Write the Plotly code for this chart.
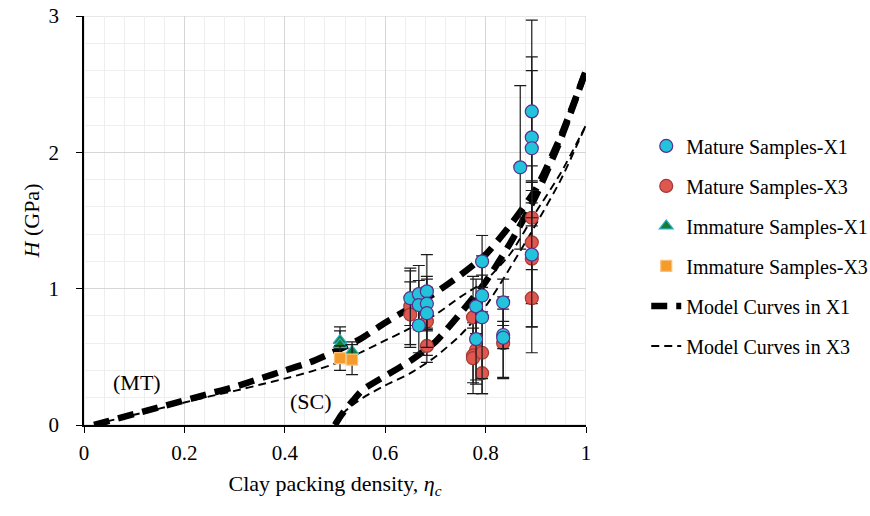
import plotly.graph_objects as go

# ---------------- data ----------------
mx1_x = [0.65, 0.667, 0.667, 0.667, 0.683, 0.683, 0.683, 0.781, 0.781, 0.793, 0.793, 0.793,
         0.835, 0.835, 0.835, 0.869, 0.892, 0.892, 0.892, 0.892]
mx1_y = [0.93, 0.96, 0.88, 0.73, 0.98, 0.89, 0.82, 0.87, 0.63, 1.20, 0.95, 0.79,
         0.90, 0.66, 0.64, 1.89, 2.30, 2.11, 2.03, 1.25]
mx1_e = [0.20, 0.21, 0.18, 0.20, 0.27, 0.20, 0.25, 0.20, 0.30, 0.19, 0.15, 0.45,
         0.17, 0.10, 0.30, 0.60, 0.67, 0.59, 0.57, 0.53]

mx3_x = [0.65, 0.65, 0.683, 0.683, 0.775, 0.781, 0.775, 0.775, 0.793, 0.793, 0.835,
         0.892, 0.892, 0.892, 0.892]
mx3_y = [0.87, 0.81, 0.76, 0.58, 0.79, 0.55, 0.51, 0.49, 0.53, 0.38, 0.60,
         1.52, 1.34, 1.22, 0.93]
mx3_e = [0.28, 0.24, 0.25, 0.12, 0.30, 0.25, 0.20, 0.26, 0.30, 0.15, 0.25,
         0.38, 0.45, 0.50, 0.40]

ix1_x = [0.51, 0.51, 0.534]
ix1_y = [0.62, 0.59, 0.54]
ix1_e = [0.10, 0.10, 0.07]

ix3_x = [0.51, 0.534]
ix3_y = [0.49, 0.48]
ix3_e = [0.09, 0.11]

mt_x = [0.02, 0.05, 0.1, 0.15, 0.2, 0.25, 0.3, 0.35, 0.4, 0.45, 0.5, 0.55, 0.6, 0.65,
        0.7, 0.75, 0.8, 0.85, 0.9, 0.95, 1.0]
mt1_y = [0, 0.03, 0.08, 0.13, 0.18, 0.23, 0.28, 0.34, 0.40, 0.46, 0.54, 0.63, 0.75, 0.86,
         0.97, 1.10, 1.25, 1.47, 1.73, 2.12, 2.6]
mt3_y = [0, 0.03, 0.075, 0.12, 0.165, 0.21, 0.25, 0.295, 0.34, 0.39, 0.45, 0.53, 0.62, 0.71,
         0.81, 0.94, 1.06, 1.26, 1.56, 1.85, 2.2]

sc1_x = [0.5, 0.51, 0.52, 0.536, 0.556, 0.6, 0.65, 0.7, 0.75, 0.8, 0.85, 0.9, 0.95, 1.0]
sc1_y = [0, 0.06, 0.11, 0.18, 0.26, 0.36, 0.47, 0.61, 0.82, 1.05, 1.34, 1.68, 2.1, 2.6]
sc3_x = [0.5, 0.51, 0.52, 0.54, 0.56, 0.6, 0.65, 0.7, 0.75, 0.8, 0.85, 0.9, 0.95, 1.0]
sc3_y = [0, 0.05, 0.10, 0.16, 0.21, 0.29, 0.38, 0.50, 0.66, 0.87, 1.16, 1.47, 1.8, 2.2]

FONT = "Liberation Serif, Times New Roman, serif"

fig = go.Figure()

thick = dict(color="black", width=6.5, dash="16px,9px", shape="spline", smoothing=0.6)
thin = dict(color="black", width=1.9, dash="8px,5px", shape="spline", smoothing=0.6)

fig.add_trace(go.Scatter(x=mt_x, y=mt1_y, mode="lines", line=thick, name="Model Curves in X1",
                         legendgroup="X1", legendrank=5))
fig.add_trace(go.Scatter(x=sc1_x, y=sc1_y, mode="lines", line=thick, name="Model Curves in X1",
                         legendgroup="X1", showlegend=False))
fig.add_trace(go.Scatter(x=mt_x, y=mt3_y, mode="lines", line=thin, name="Model Curves in X3",
                         legendgroup="X3", legendrank=6))
fig.add_trace(go.Scatter(x=sc3_x, y=sc3_y, mode="lines", line=thin, name="Model Curves in X3",
                         legendgroup="X3", showlegend=False))

err = lambda e: dict(type="data", array=e, visible=True, color="#1a1a1a", thickness=1.2, width=6)

fig.add_trace(go.Scatter(x=mx3_x, y=mx3_y, mode="markers", name="Mature Samples-X3",
                         legendgroup="m3", legendrank=2, error_y=err(mx3_e),
                         marker=dict(symbol="circle", size=13, color="#e0574f",
                                     line=dict(color="#a33a36", width=1.2))))
fig.add_trace(go.Scatter(x=mx1_x, y=mx1_y, mode="markers", name="Mature Samples-X1",
                         legendgroup="m1", legendrank=1, error_y=err(mx1_e),
                         marker=dict(symbol="circle", size=13, color="#22c3db",
                                     line=dict(color="#5b2d8c", width=1.2))))
fig.add_trace(go.Scatter(x=ix1_x, y=ix1_y, mode="markers", name="Immature Samples-X1",
                         legendgroup="i1", legendrank=3, error_y=err(ix1_e),
                         marker=dict(symbol="triangle-up", size=12, color="#1c7a30",
                                     line=dict(color="#22b0c8", width=1.2))))
fig.add_trace(go.Scatter(x=ix3_x, y=ix3_y, mode="markers", name="Immature Samples-X3",
                         legendgroup="i3", legendrank=4, error_y=err(ix3_e),
                         marker=dict(symbol="square", size=11, color="#f59a2c",
                                     line=dict(color="#f8c27a", width=1.2))))

fig.add_annotation(x=0.106, y=0.31, text="(MT)", showarrow=False,
                   font=dict(family=FONT, size=22, color="black"))
fig.add_annotation(x=0.452, y=0.17, text="(SC)", showarrow=False,
                   font=dict(family=FONT, size=22, color="black"))

fig.add_shape(type="rect", xref="x", yref="y", x0=0, x1=1, y0=0, y1=3,
              line=dict(color="#cfcfcf", width=1), layer="below")

fig.update_layout(
    width=870, height=516,
    margin=dict(l=84, r=284, t=16, b=91, autoexpand=False),
    paper_bgcolor="white", plot_bgcolor="white",
    font=dict(family=FONT, size=22, color="black"),
    showlegend=True,
    legend=dict(x=1.12, y=0.73, xanchor="left", yanchor="top",
                font=dict(family=FONT, size=20, color="black"),
                tracegroupgap=11, bgcolor="rgba(0,0,0,0)"),
    xaxis=dict(range=[0, 1], tickvals=[0, 0.2, 0.4, 0.6, 0.8, 1],
               ticktext=["0", "0.2", "0.4", "0.6", "0.8", "1"],
               tickfont=dict(family=FONT, size=21),
               showgrid=True, gridcolor="#d6d6d6", gridwidth=1,
               minor=dict(dtick=0.04, showgrid=True, gridcolor="#eeeeee", gridwidth=1),
               showline=True, linecolor="black", linewidth=1.5,
               ticks="outside", ticklen=6, tickcolor="black", tickwidth=1.2,
               zeroline=False, ticklabelstandoff=2,
               title=dict(text="Clay packing density, <i>η<sub>c</sub></i>",
                          font=dict(family=FONT, size=22), standoff=12)),
    yaxis=dict(range=[0, 3], tickvals=[0, 1, 2, 3],
               tickfont=dict(family=FONT, size=21),
               showgrid=True, gridcolor="#d6d6d6", gridwidth=1,
               minor=dict(dtick=0.2, showgrid=True, gridcolor="#eeeeee", gridwidth=1),
               showline=True, linecolor="black", linewidth=1.5,
               ticks="outside", ticklen=6, tickcolor="black", tickwidth=1.2,
               zeroline=False, ticklabelstandoff=13,
               title=dict(text="<i>H</i> (GPa)", font=dict(family=FONT, size=22), standoff=3)),
)

fig.write_html("out.html")
